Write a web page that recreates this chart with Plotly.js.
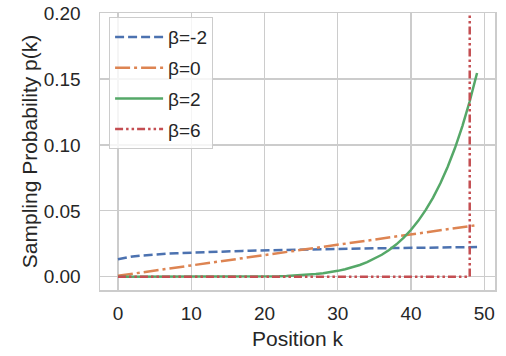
<!DOCTYPE html>
<html>
<head>
<meta charset="utf-8">
<script src="https://cdn.plot.ly/plotly-3.0.1.min.js"></script>
<style>html,body{margin:0;padding:0;background:#fff;}#chart{width:506px;height:356px;}</style>
</head>
<body>
<div id="chart"></div>
<script>
// Position k (0..49)
const positions = [0,1,2,3,4,5,6,7,8,9,10,11,12,13,14,15,16,17,18,19,20,21,22,23,24,25,26,27,28,29,30,31,32,33,34,35,36,37,38,39,40,41,42,43,44,45,46,47,48,49];

const seriesNames = ["β=-2", "β=0", "β=2", "β=6"];

// β = -2
const pBetaNeg2 = [0.01329,0.01460,0.01542,0.01603,0.01653,0.01694,0.01730,0.01761,0.01789,0.01815,
  0.01839,0.01860,0.01881,0.01900,0.01917,0.01934,0.01950,0.01965,0.01980,0.01994,
  0.02007,0.02019,0.02032,0.02043,0.02055,0.02066,0.02076,0.02086,0.02096,0.02106,
  0.02115,0.02124,0.02133,0.02142,0.02150,0.02159,0.02167,0.02174,0.02182,0.02190,
  0.02197,0.02204,0.02211,0.02218,0.02225,0.02231,0.02238,0.02244,0.02250,0.02257];

// β = 0
const pBeta0 = [0.00078,0.00157,0.00235,0.00314,0.00392,0.00471,0.00549,0.00627,0.00706,0.00784,
  0.00863,0.00941,0.01020,0.01098,0.01176,0.01255,0.01333,0.01412,0.01490,0.01569,
  0.01647,0.01725,0.01804,0.01882,0.01961,0.02039,0.02118,0.02196,0.02275,0.02353,
  0.02431,0.02510,0.02588,0.02667,0.02745,0.02824,0.02902,0.02980,0.03059,0.03137,
  0.03216,0.03294,0.03373,0.03451,0.03529,0.03608,0.03686,0.03765,0.03843,0.03922];

// β = 2
const pBeta2 = [0,0,0,0,0,0,0,0,0,0.000001,
  0.000002,0.000004,0.000007,0.000013,0.000021,0.000034,0.000053,0.000081,0.000121,0.000177,
  0.000254,0.000358,0.000497,0.000682,0.000921,0.001230,0.001627,0.002129,0.002760,0.003546,
  0.004518,0.005714,0.007170,0.00894,0.01108,0.01364,0.01670,0.02033,0.02464,0.02971,
  0.03565,0.04260,0.05069,0.06008,0.07093,0.08344,0.09780,0.11427,0.13307,0.1545];

// β = 6 (all mass at the spike near k=48)
const posBeta6 = [0,1,2,3,4,5,6,7,8,9,10,11,12,13,14,15,16,17,18,19,20,21,22,23,24,25,26,27,28,29,30,31,32,33,34,35,36,37,38,39,40,41,42,43,44,45,46,47,48,48];
const pBeta6 = [0,0,0,0,0,0,0,0,0,0,0,0,0,0,0,0,0,0,0,0,0,0,0,0,0,0,0,0,0,0,0,0,0,0,0,0,0,0,0,0,0,0,0,0,0,0,0,0,0,1.0];

const xTicks = [0,10,20,30,40,50];
const yTicks = [0,0.05,0.10,0.15,0.20];
const yTickText = ["0.00","0.05","0.10","0.15","0.20"];

const colors = ["#4c72b0","#dd8452","#55a868","#c44e52"];
const dashes = ["9px,4px", "15px,4px,3px,4px", "solid", "8px,3px,2.5px,3px,2.5px,3px"];

const xs = [positions, positions, positions, posBeta6];
const ys = [pBetaNeg2, pBeta0, pBeta2, pBeta6];

const traces = seriesNames.map((n, i) => ({
  x: xs[i], y: ys[i], name: n, type: "scatter", mode: "lines",
  legendgroup: "g" + i,
  line: {color: colors[i], width: 2.5, dash: dashes[i]}
}));

const FONT = "Liberation Sans, Arial, sans-serif";
const layout = {
  width: 506, height: 356,
  margin: {l: 100, r: 11, t: 13, b: 66, pad: 0},
  paper_bgcolor: "#fff", plot_bgcolor: "#fff",
  font: {family: FONT, color: "#262626", size: 19},
  showlegend: true,
  legend: {
    x: 0.023, y: 0.985, xanchor: "left", yanchor: "top",
    bgcolor: "rgba(255,255,255,0.8)", bordercolor: "#cccccc", borderwidth: 1,
    font: {family: FONT, size: 19, color: "#262626"},
    tracegroupgap: 3, itemwidth: 48
  },
  xaxis: {
    range: [-2.45, 51.45], tickvals: xTicks, ticktext: xTicks.map(String),
    showgrid: true, gridcolor: "#cccccc", gridwidth: 1.25,
    zeroline: false, showline: true, mirror: true, linecolor: "#cccccc", linewidth: 1.5,
    ticks: "", ticklabelstandoff: 6,
    tickfont: {family: FONT, size: 19, color: "#262626"},
    title: {text: "Position k", font: {family: FONT, size: 21, color: "#262626"}, standoff: 8},
    automargin: false
  },
  yaxis: {
    range: [-0.01, 0.2], tickvals: yTicks, ticktext: yTickText,
    showgrid: true, gridcolor: "#cccccc", gridwidth: 1.25,
    zeroline: false, showline: true, mirror: true, linecolor: "#cccccc", linewidth: 1.5,
    ticks: "", ticklabelstandoff: 14,
    tickfont: {family: FONT, size: 19, color: "#262626"},
    title: {text: "Sampling Probability p(k)", font: {family: FONT, size: 21, color: "#262626"}, standoff: 0},
    automargin: false
  }
};

Plotly.newPlot("chart", traces, layout, {staticPlot: true, displayModeBar: false});
</script>
</body>
</html>
